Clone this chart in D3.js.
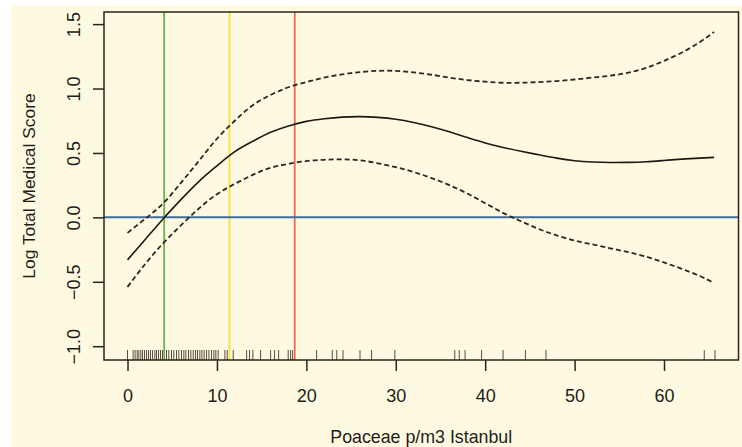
<!DOCTYPE html>
<html>
<head>
  <meta charset="utf-8">
  <title>Log Total Medical Score vs Poaceae</title>
  <style>
    body { margin: 0; background: #ffffff; }
    text { font-family: "Liberation Sans", Arial, Helvetica, sans-serif; fill: #231d18; }
  </style>
</head>
<body>
  <script src="https://cdn.jsdelivr.net/npm/d3@7/dist/d3.min.js"></script>
  <script>
    // values
    var xGrid = [0, 2, 4, 6, 8, 10, 12, 14, 16, 18, 20, 22, 24, 26, 28, 30, 32, 34, 36, 38, 40,
                 42, 44, 46, 48, 50, 52, 54, 56, 58, 60, 62, 64, 65.6];
    var fitVals = [-0.33, -0.17, -0.01, 0.14, 0.28, 0.40, 0.51, 0.59, 0.66, 0.71, 0.745, 0.765,
                   0.778, 0.782, 0.776, 0.762, 0.737, 0.704, 0.664, 0.62, 0.578, 0.543, 0.513,
                   0.486, 0.46, 0.44, 0.43, 0.426, 0.427, 0.432, 0.442, 0.452, 0.46, 0.466];
    var upperVals = [-0.12, -0.01, 0.11, 0.27, 0.44, 0.61, 0.75, 0.87, 0.95, 1.01, 1.05, 1.085,
                     1.11, 1.128, 1.137, 1.137, 1.125, 1.107, 1.085, 1.066, 1.053, 1.045, 1.045,
                     1.05, 1.058, 1.07, 1.085, 1.10, 1.123, 1.16, 1.215, 1.28, 1.36, 1.44];
    var lowerVals = [-0.54, -0.36, -0.20, -0.06, 0.07, 0.18, 0.26, 0.33, 0.385, 0.415, 0.437, 0.447,
                     0.45, 0.443, 0.42, 0.39, 0.352, 0.305, 0.25, 0.185, 0.11, 0.035, -0.03,
                     -0.09, -0.14, -0.18, -0.21, -0.24, -0.27, -0.305, -0.35, -0.40, -0.455, -0.51];
    var rugVals = [0.0, 0.63, 0.85, 1.08, 1.27, 1.49, 1.68, 1.9, 2.13, 2.35, 2.57, 2.8, 3.06, 3.24,
                   3.47, 3.69, 3.91, 4.36, 4.62, 4.92, 5.18, 5.48, 5.74, 6.04, 6.3, 6.52, 6.82,
                   7.08, 7.35, 7.61, 7.83, 8.09, 8.32, 8.57, 8.84, 9.1, 9.4, 9.66, 9.88, 10.14,
                   10.89, 11.15, 11.82, 13.32, 13.65, 14.02, 14.88, 16.0, 16.45, 16.9, 17.97,
                   18.24, 18.47, 21.15, 22.9, 23.4, 24.1, 26.0, 27.3, 29.9, 36.6, 37.1, 37.75,
                   39.6, 42.0, 44.5, 46.8, 64.5, 65.7];
    var cutVals = [4.1, 11.4, 18.7];
    var cutColors = ["#6cb24a", "#f6df3c", "#f2655a"];
    var xTicks = [0, 10, 20, 30, 40, 50, 60];
    var yTicks = [-1.0, -0.5, 0.0, 0.5, 1.0, 1.5];

    var svg = d3.select("body").append("svg")
      .attr("width", 742)
      .attr("height", 447);

    // cream page behind the plot
    svg.append("rect").attr("x", 11).attr("y", 5)
      .attr("width", 731).attr("height", 442)
      .attr("fill", "#fefae2");

    var x = d3.scaleLinear().domain([-2.63, 68.33]).range([104, 738.5]),
        y = d3.scaleLinear().domain([-1.107, 1.594]).range([360, 12]);

    // vertical cut lines
    svg.append("g").selectAll("line")
      .data(cutVals)
      .enter().append("line")
      .attr("x1", function(d) { return x(d); })
      .attr("x2", function(d) { return x(d); })
      .attr("y1", y.range()[1])
      .attr("y2", y.range()[0])
      .attr("stroke", function(d, i) { return cutColors[i]; })
      .attr("stroke-width", 1.8);

    // zero line
    svg.append("line")
      .attr("x1", x.range()[0]).attr("x2", x.range()[1])
      .attr("y1", y(0)).attr("y2", y(0))
      .attr("stroke", "#3f6c9c")
      .attr("stroke-width", 2);

    var line = d3.line()
      .x(function(d) { return x(d[0]); })
      .y(function(d) { return y(d[1]); })
      .curve(d3.curveNatural);

    function pairs(vals) {
      return xGrid.map(function(v, i) { return [v, vals[i]]; });
    }

    svg.append("path").datum(pairs(upperVals))
      .attr("d", line).attr("fill", "none")
      .attr("stroke", "#2e2620").attr("stroke-width", 1.8)
      .attr("stroke-dasharray", "5,3");
    svg.append("path").datum(pairs(lowerVals))
      .attr("d", line).attr("fill", "none")
      .attr("stroke", "#2e2620").attr("stroke-width", 1.8)
      .attr("stroke-dasharray", "5,3");
    svg.append("path").datum(pairs(fitVals))
      .attr("d", line).attr("fill", "none")
      .attr("stroke", "#1e1812").attr("stroke-width", 1.6);

    // rug
    svg.append("g").selectAll("line")
      .data(rugVals)
      .enter().append("line")
      .attr("x1", function(d) { return x(d); })
      .attr("x2", function(d) { return x(d); })
      .attr("y1", y.range()[0])
      .attr("y2", y.range()[0] - 10)
      .attr("stroke", "#5a4c40")
      .attr("stroke-width", 1);

    // X axis
    var xAxis = svg.append("g").attr("id", "x_axis")
      .attr("transform", "translate(0," + y.range()[0] + ")")
      .call(d3.axisBottom(x).tickValues(xTicks).tickSize(11).tickFormat(d3.format("d")));
    xAxis.select(".domain").remove();
    xAxis.selectAll("line").attr("stroke", "#2d2219").attr("stroke-width", 1.5);
    xAxis.selectAll("text")
      .attr("y", 41.5).attr("dy", null)
      .attr("font-size", 18).attr("fill", "#231d18");

    // Y axis
    var yAxis = svg.append("g").attr("id", "y_axis")
      .attr("transform", "translate(" + x.range()[0] + ",0)")
      .call(d3.axisLeft(y).tickValues(yTicks).tickSize(11).tickFormat(d3.format(".1f")));
    yAxis.select(".domain").remove();
    yAxis.selectAll("line").attr("stroke", "#2d2219").attr("stroke-width", 1.5);
    yAxis.selectAll("text")
      .attr("x", null).attr("dy", null)
      .attr("transform", "translate(-24,0) rotate(-90)")
      .attr("text-anchor", "middle")
      .attr("font-size", 18).attr("fill", "#231d18");

    // box
    svg.append("rect")
      .attr("x", x.range()[0]).attr("y", y.range()[1])
      .attr("width", x.range()[1] - x.range()[0])
      .attr("height", y.range()[0] - y.range()[1])
      .attr("fill", "none")
      .attr("stroke", "#2d2219")
      .attr("stroke-width", 1.5);

    // axis titles
    svg.append("text").attr("id", "x_axis_label")
      .attr("x", (x.range()[0] + x.range()[1]) / 2)
      .attr("y", 443)
      .attr("text-anchor", "middle")
      .attr("font-size", 17.8)
      .text("Poaceae p/m3 Istanbul");

    svg.append("text").attr("id", "y_axis_label")
      .attr("transform", "translate(35," + (y.range()[0] + y.range()[1]) / 2 + ") rotate(-90)")
      .attr("text-anchor", "middle")
      .attr("font-size", 17.4)
      .text("Log Total Medical Score");
  </script>
</body>
</html>
